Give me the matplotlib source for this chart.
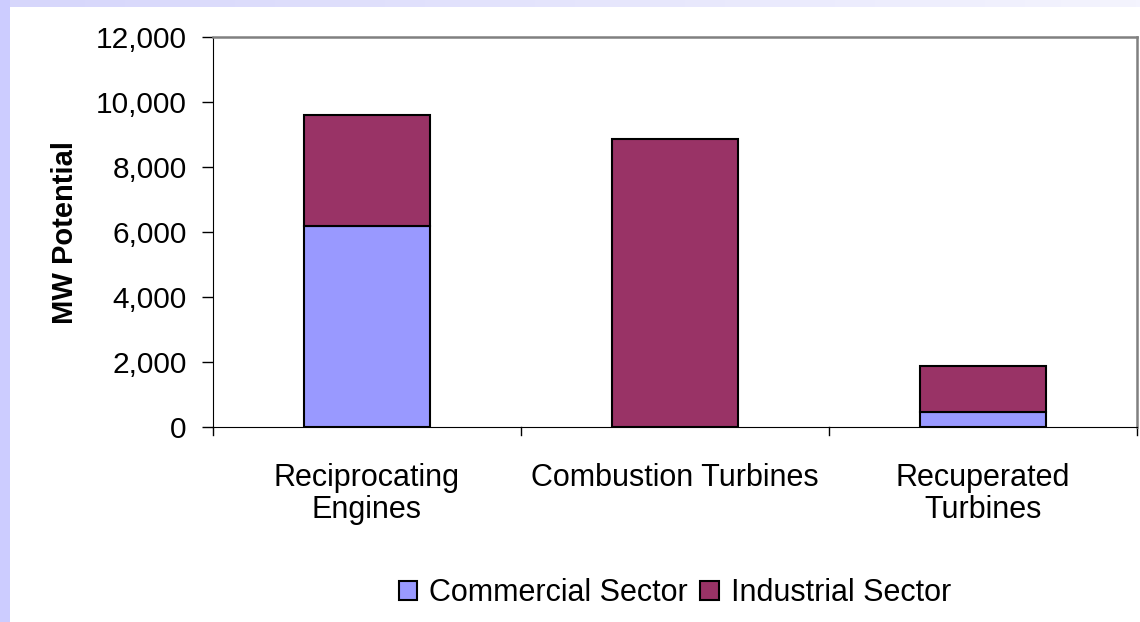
import matplotlib
matplotlib.use("Agg")
import matplotlib.pyplot as plt
import numpy as np
from matplotlib.patches import Rectangle

categories = ["Reciprocating\nEngines", "Combustion Turbines", "Recuperated\nTurbines"]
commercial = [6200, 0, 450]
industrial = [3400, 8860, 1440]

plt.rcParams["font.family"] = ["Liberation Sans", "DejaVu Sans"]

fig = plt.figure(figsize=(11.4, 6.22), dpi=100)
fig.patch.set_facecolor("white")

# lavender frame strips on the left and top
fig.add_artist(Rectangle((0, 0), 10 / 1140, 1, transform=fig.transFigure,
                         facecolor="#ccccff", edgecolor="none", zorder=0))
grad = np.linspace(0, 1, 256).reshape(1, -1)
top = fig.add_axes([10 / 1140, 1 - 7 / 622, 1 - 10 / 1140, 7 / 622], zorder=0)
top.imshow(grad, aspect="auto", cmap=matplotlib.colors.LinearSegmentedColormap.from_list(
    "frame", ["#d6d6fb", "#f4f4fe"]))
top.axis("off")

ax = fig.add_axes([213 / 1140, 1 - 427 / 622, 924 / 1140, 390 / 622])
x = np.arange(len(categories))
w = 0.41
ax.bar(x, commercial, w, color="#9999ff", edgecolor="black", lw=1.5,
       label="Commercial Sector")
ax.bar(x, industrial, w, bottom=commercial, color="#993366", edgecolor="black", lw=1.5,
       label="Industrial Sector")

ax.set_xlim(-0.5, 2.5)
ax.set_ylim(0, 12000)
ax.set_yticks(np.arange(0, 12001, 2000))
ax.set_yticklabels([f"{v:,}" for v in range(0, 12001, 2000)], fontsize=21.5)
ax.set_xticks(x)
ax.set_xticklabels(categories, fontsize=22, linespacing=1.1)
ax.tick_params(axis="x", length=0, pad=26)
ax.tick_params(axis="y", length=8, width=1, direction="out", pad=11)
# category separators on the x axis
for b in [-0.5, 0.5, 1.5, 2.5]:
    ax.plot([b, b], [0, -0.02], transform=ax.get_xaxis_transform(), color="black",
            lw=1, clip_on=False)
ax.set_ylabel("MW Potential", fontsize=21, fontweight="bold", labelpad=12)

for s in ["top", "right"]:
    ax.spines[s].set_color("#808080")
    ax.spines[s].set_linewidth(1.8)
ax.spines["left"].set_color("black")
ax.spines["bottom"].set_color("black")

h, l = ax.get_legend_handles_labels()
fig.legend(h, l, loc="center", bbox_to_anchor=(675 / 1140, 1 - 593 / 622), ncol=2,
           frameon=False, fontsize=22, handlelength=0.6, handleheight=0.6,
           handletextpad=0.4, columnspacing=0.4)

fig.savefig("out.png", dpi=100)
